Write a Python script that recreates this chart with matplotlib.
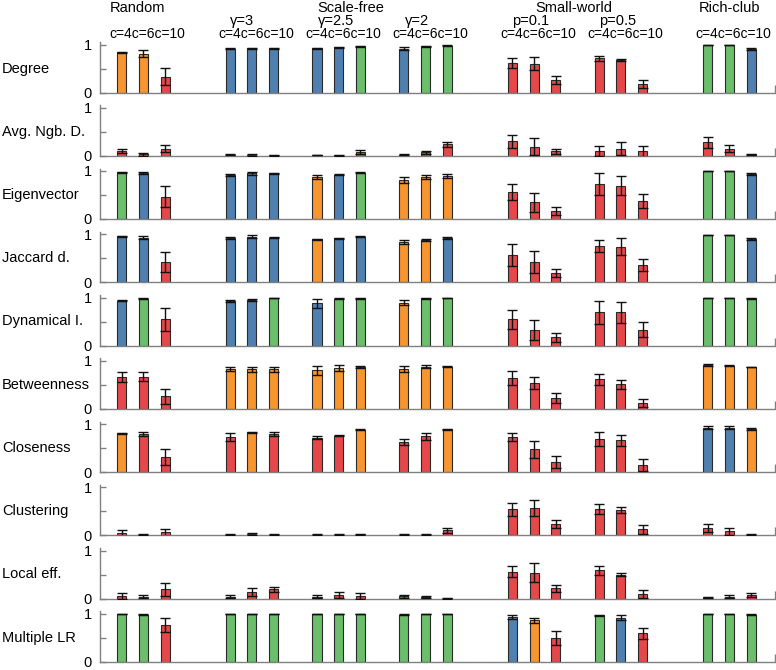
"""
Painel de barras com erro: uma linha por medida de centralidade,
grupos de redes (Random, Scale-free, Small-world, Rich-club).
"""

import matplotlib
matplotlib.use("Agg")
import matplotlib.pyplot as plt

plt.rcParams["font.family"] = ["Liberation Sans", "DejaVu Sans"]

# Nomes das linhas (medidas)
row_names = ["Degree", "Avg. Ngb. D.", "Eigenvector", "Jaccard d.", "Dynamical I.",
             "Betweenness", "Closeness", "Clustering", "Local eff.", "Multiple LR"]

# Grupos e rótulos do topo
groups = ["Random", "Scale-free", "Small-world", "Rich-club"]
subgroups = ["\u03b3=3", "\u03b3=2.5", "\u03b3=2", "p=0.1", "p=0.5"]
c_labels = ["c=4", "c=6", "c=10"]

# 21 barras por linha: Random(3), SF g=3(3), g=2.5(3), g=2(3), SW p=0.1(3), p=0.5(3), RC(3)
degree_mean = [0.84, 0.81, 0.33, 0.91, 0.92, 0.92, 0.92, 0.94, 0.96, 0.91, 0.96, 0.97,
               0.62, 0.60, 0.26, 0.71, 0.68, 0.18, 0.99, 0.99, 0.91]
degree_err = [0.01, 0.07, 0.18, 0.01, 0.01, 0.01, 0.01, 0.01, 0.01, 0.03, 0.01, 0.01,
              0.10, 0.14, 0.085, 0.06, 0.02, 0.09, 0.0, 0.0, 0.02]
degree_col = "OORBBBBBGBGGRRRRRRGGB"

avgngb_mean = [0.10, 0.03, 0.15, 0.02, 0.02, 0.01, 0.01, 0.01, 0.08, 0.02, 0.07, 0.24,
               0.30, 0.19, 0.09, 0.10, 0.15, 0.09, 0.28, 0.15, 0.03]
avgngb_err = [0.05, 0.03, 0.08, 0.01, 0.02, 0.01, 0.0, 0.01, 0.05, 0.01, 0.03, 0.05,
              0.13, 0.17, 0.06, 0.10, 0.13, 0.12, 0.12, 0.08, 0.01]
avgngb_col = "RRRRRRRRRRRRRRRRRRRRR"

eig_mean = [0.97, 0.95, 0.46, 0.92, 0.95, 0.95, 0.88, 0.92, 0.96, 0.81, 0.87, 0.90,
            0.56, 0.35, 0.17, 0.73, 0.69, 0.38, 0.99, 0.99, 0.94]
eig_err = [0.01, 0.02, 0.22, 0.02, 0.03, 0.01, 0.04, 0.01, 0.01, 0.07, 0.04, 0.04,
           0.16, 0.20, 0.08, 0.22, 0.20, 0.15, 0.0, 0.0, 0.02]
eig_col = "GBRBBBOBGOOORRRRRRGGB"

jac_mean = [0.96, 0.93, 0.42, 0.92, 0.95, 0.93, 0.90, 0.92, 0.95, 0.83, 0.88, 0.92,
            0.57, 0.42, 0.19, 0.76, 0.74, 0.36, 0.99, 0.99, 0.90]
jac_err = [0.01, 0.03, 0.21, 0.02, 0.03, 0.01, 0.01, 0.01, 0.01, 0.04, 0.03, 0.02,
           0.23, 0.23, 0.09, 0.13, 0.18, 0.12, 0.0, 0.0, 0.03]
jac_col = "BBRBBBOBBOOBRRRRRRGGB"

dyn_mean = [0.93, 0.97, 0.55, 0.92, 0.95, 0.98, 0.88, 0.97, 0.98, 0.89, 0.98, 0.99,
            0.55, 0.32, 0.17, 0.69, 0.69, 0.33, 0.99, 0.99, 0.98]
dyn_err = [0.01, 0.01, 0.24, 0.02, 0.02, 0.0, 0.09, 0.01, 0.01, 0.05, 0.01, 0.0,
           0.20, 0.21, 0.09, 0.24, 0.22, 0.15, 0.0, 0.0, 0.01]
dyn_col = "BGRBBGBGGOGGRRRRRRGGG"

btw_mean = [0.66, 0.67, 0.26, 0.82, 0.82, 0.82, 0.80, 0.85, 0.87, 0.83, 0.88, 0.88,
            0.64, 0.54, 0.22, 0.61, 0.51, 0.12, 0.92, 0.90, 0.87]
btw_err = [0.10, 0.10, 0.16, 0.04, 0.05, 0.05, 0.10, 0.06, 0.03, 0.06, 0.03, 0.02,
           0.14, 0.13, 0.10, 0.11, 0.09, 0.08, 0.02, 0.01, 0.01]
btw_col = "RRROOOOOOOOORRRRRROOO"

clo_mean = [0.81, 0.80, 0.31, 0.73, 0.83, 0.80, 0.71, 0.76, 0.88, 0.62, 0.74, 0.89,
            0.73, 0.47, 0.21, 0.69, 0.66, 0.15, 0.92, 0.92, 0.90]
clo_err = [0.01, 0.04, 0.16, 0.08, 0.01, 0.04, 0.03, 0.02, 0.01, 0.06, 0.07, 0.01,
           0.08, 0.17, 0.12, 0.14, 0.12, 0.12, 0.03, 0.03, 0.02]
clo_col = "ORRRORRRORRORRRRRRBBO"

clu_mean = [0.04, 0.01, 0.06, 0.01, 0.02, 0.01, 0.01, 0.01, 0.02, 0.01, 0.01, 0.10,
            0.54, 0.57, 0.24, 0.55, 0.52, 0.12, 0.15, 0.08, 0.01]
clu_err = [0.06, 0.01, 0.07, 0.01, 0.02, 0.01, 0.01, 0.01, 0.01, 0.01, 0.01, 0.05,
           0.14, 0.17, 0.08, 0.11, 0.06, 0.10, 0.09, 0.07, 0.01]
clu_col = "RRRRRRRRRRRRRRRRRRRRR"

loc_mean = [0.06, 0.04, 0.19, 0.04, 0.14, 0.19, 0.04, 0.07, 0.06, 0.05, 0.04, 0.01,
            0.56, 0.54, 0.21, 0.59, 0.50, 0.10, 0.03, 0.04, 0.07]
loc_err = [0.06, 0.03, 0.13, 0.03, 0.08, 0.06, 0.03, 0.06, 0.06, 0.03, 0.02, 0.01,
           0.11, 0.19, 0.08, 0.09, 0.03, 0.08, 0.01, 0.03, 0.04]
loc_col = "RRRRRRRRRRRRRRRRRRRRR"

mlr_mean = [0.99, 0.98, 0.77, 0.99, 0.99, 0.99, 0.99, 0.99, 0.99, 0.98, 0.99, 0.99,
            0.93, 0.86, 0.50, 0.97, 0.92, 0.59, 0.99, 0.99, 0.98]
mlr_err = [0.0, 0.01, 0.14, 0.0, 0.0, 0.0, 0.0, 0.0, 0.0, 0.01, 0.0, 0.0,
           0.04, 0.05, 0.15, 0.01, 0.06, 0.11, 0.0, 0.0, 0.01]
mlr_col = "GGRGGGGGGGGGBORGBRGGG"

rows = [
    (degree_mean, degree_err, degree_col),
    (avgngb_mean, avgngb_err, avgngb_col),
    (eig_mean, eig_err, eig_col),
    (jac_mean, jac_err, jac_col),
    (dyn_mean, dyn_err, dyn_col),
    (btw_mean, btw_err, btw_col),
    (clo_mean, clo_err, clo_col),
    (clu_mean, clu_err, clu_col),
    (loc_mean, loc_err, loc_col),
    (mlr_mean, mlr_err, mlr_col),
]

palette = {"R": "#E5474A", "B": "#4F80B0", "G": "#6BBE6A", "O": "#F7952F"}

# Posição horizontal das barras: grupos de 3 com espaços entre eles
group_starts = [0, 5, 9, 13, 18, 22, 27]
xpos = [s + k for s in group_starts for k in range(3)]

W, H = 776, 670
fig = plt.figure(figsize=(W / 100, H / 100), dpi=100)

ax_left = 100 / W
ax_width = 675 / W
unit = 48.0          # pixels por unidade no eixo y
ytop = 1.05
row_step = 63.25
first_base = 92.5

axes = []
for i, (means, errs, cols) in enumerate(rows):
    base = first_base + row_step * i
    bottom = 1 - base / H
    height = ytop * unit / H
    ax = fig.add_axes([ax_left, bottom, ax_width, height])
    axes.append(ax)

    ax.bar(xpos, means, width=0.42, color=[palette[c] for c in cols],
           edgecolor="#2a2a2a", linewidth=0.8, zorder=2)
    ax.errorbar(xpos, means, yerr=errs, fmt="none", ecolor="#111111",
                elinewidth=1.0, capsize=3.3, capthick=1.0, zorder=3)

    ax.set_xlim(-1, 30.1)
    ax.set_ylim(0, ytop)
    ax.set_yticks([0, 0.5, 1])
    ax.set_yticklabels(["0", "", "1"])
    ax.set_xticks([30.1])
    ax.set_xticklabels([""])
    ax.tick_params(axis="y", direction="in", length=4, width=1, color="#808080",
                   labelsize=10.5, pad=6)
    ax.tick_params(axis="x", direction="in", length=6, width=1, color="#808080")
    for side in ["top", "right"]:
        ax.spines[side].set_visible(False)
    for side in ["left", "bottom"]:
        ax.spines[side].set_color("#808080")
        ax.spines[side].set_linewidth(1.0)
    ax.patch.set_alpha(0)

    fig.text(2 / W, 1 - (base - 24) / H, row_names[i], ha="left", va="center",
             fontsize=10.5)

# Cabeçalhos no topo
top = axes[0]
group_x = [0.75, 10.55, 20.85, 28.0]
for name, gx in zip(groups, group_x):
    top.text(gx, 1.77, name, ha="center", va="center", fontsize=10.5, clip_on=False)

sub_x = [5.53, 9.9, 13.6, 18.85, 22.85]
for name, sx in zip(subgroups, sub_x):
    top.text(sx, 1.48, name, ha="center", va="center", fontsize=10.5, clip_on=False)

# rótulos c=4, c=6, c=10 encostados, como no original
c_text = "".join(c_labels)
for s in group_starts:
    top.text(s + 1.2, 1.21, c_text, ha="center", va="center", fontsize=10,
             clip_on=False)

fig.savefig("out.png", dpi=100)
plt.close(fig)
